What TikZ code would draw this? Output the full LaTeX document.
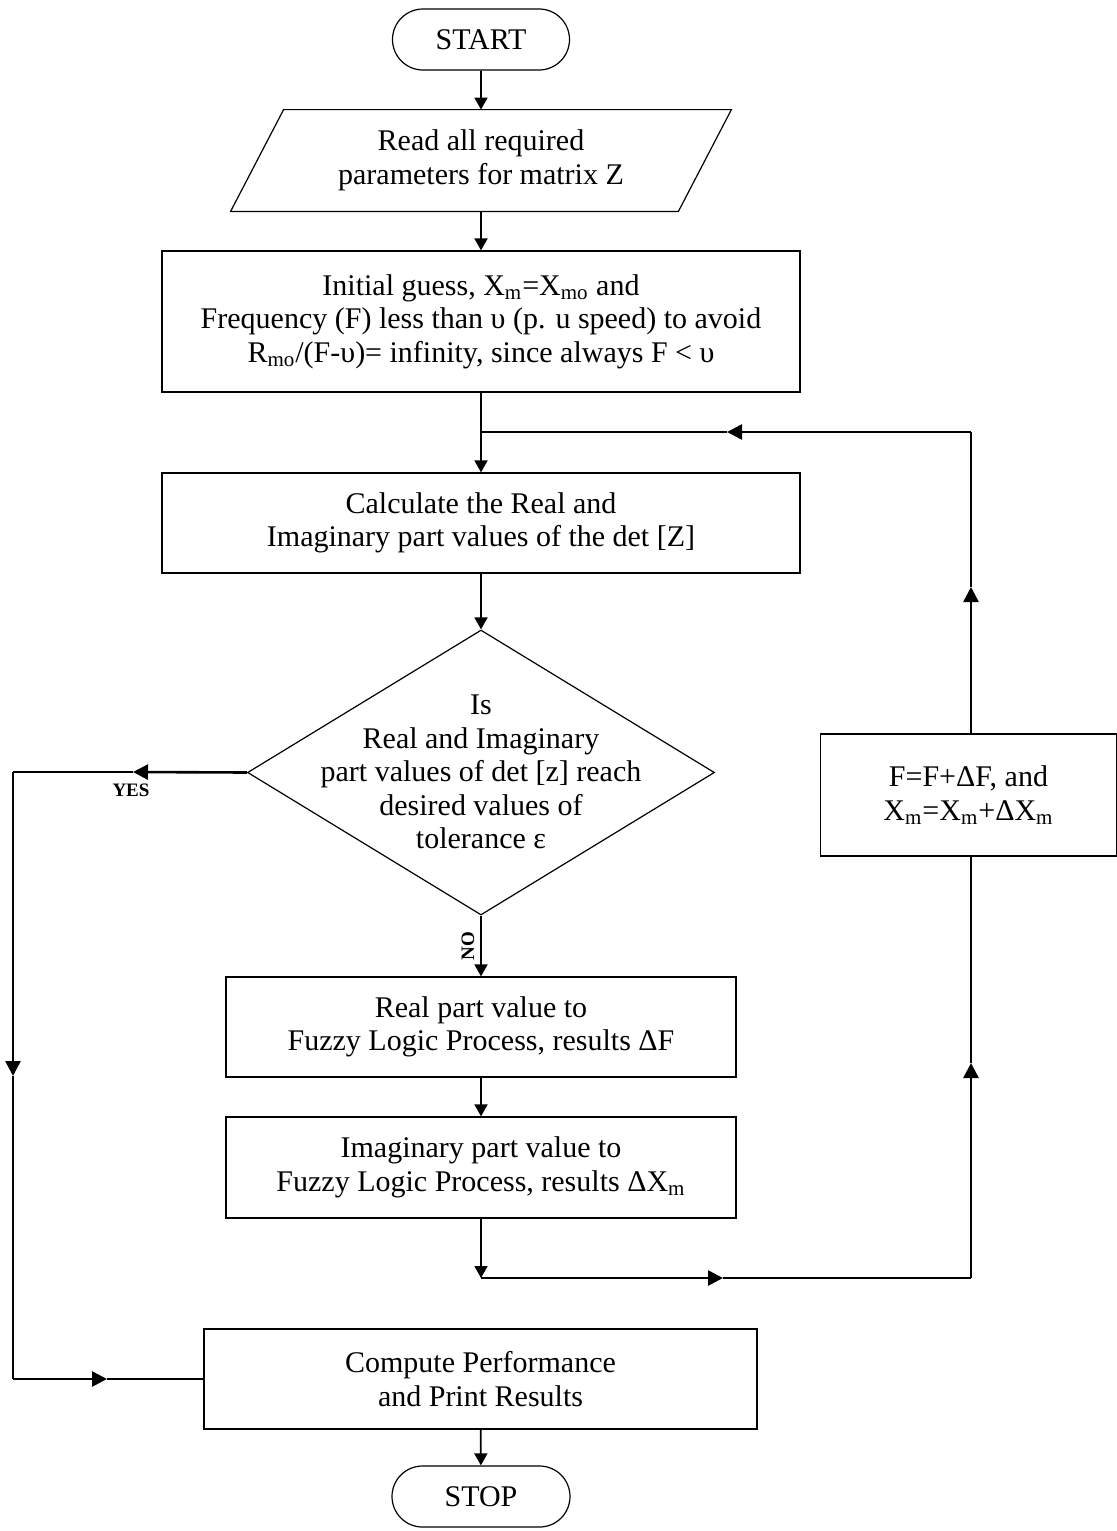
\documentclass[tikz,border=0pt]{standalone}
\usepackage{fontspec}
\setmainfont{Liberation Serif}
\usetikzlibrary{arrows.meta,shapes.geometric,shapes.misc}
\newcommand\sbs[1]{\textsubscript{#1}}
\begin{document}
\begin{tikzpicture}[x=0.5pt,y=-0.5pt,
  txt/.style={align=center, inner sep=0pt, font=\fontsize{15}{16.8}\selectfont},
  box/.style={txt, draw, line width=0.6pt, rectangle},
  term/.style={txt, draw, line width=0.6pt, rounded rectangle},
  lbl/.style={inner sep=0pt, font=\fontsize{9.5}{11}\selectfont\bfseries},
  conn/.style={line width=0.9pt},
  thk/.style={line width=1.3pt},
  arr/.style={conn, -{Triangle[length=6pt,width=6.5pt]}},
  tarr/.style={thk, -{Triangle[length=7.5pt,width=7.5pt]}}]
\useasboundingbox (0,0) rectangle (1117,1531);

% nodes
\node[term, minimum width=88.5pt, minimum height=30.5pt] (start) at (481,39.5) {START};
\node[txt, minimum width=250pt, minimum height=50.5pt] (read) at (481,160.5) {Read all required\\parameters for matrix Z};
\draw[line width=0.6pt] (read.south west) -- ([xshift=26.5pt]read.north west) -- (read.north east) -- ([xshift=-26.5pt]read.south east) -- cycle;
\node[box, minimum width=319pt, minimum height=70.5pt] (init) at (481,321.5)
  {Initial guess, X\sbs{m}=X\sbs{mo} and\\Frequency (F) less than υ (p. u speed) to avoid\\R\sbs{mo}/(F-υ)= infinity, since always F < υ};
\node[box, minimum width=319pt, minimum height=50pt] (calc) at (481,523)
  {Calculate the Real and\\Imaginary part values of the det [Z]};
\node[diamond, draw, line width=0.6pt, inner sep=0pt, minimum width=233.5pt, minimum height=142.5pt] (dec) at (481,772.5) {};
\node[txt] (dectxt) at (481,772) {Is\\Real and Imaginary\\part values of det [z] reach\\desired values of\\tolerance ε};
\node[box, minimum width=148pt, minimum height=61pt] (fbox) at (968.5,795)
  {F=F+ΔF, and\\X\sbs{m}=X\sbs{m}+ΔX\sbs{m}};
\node[box, minimum width=255pt, minimum height=50pt] (real) at (481,1027)
  {Real part value to\\Fuzzy Logic Process, results ΔF};
\node[box, minimum width=255pt, minimum height=50.5pt] (imag) at (481,1167.5)
  {Imaginary part value to\\Fuzzy Logic Process, results ΔX\sbs{m}};
\node[box, minimum width=276.5pt, minimum height=50pt] (comp) at (480.5,1379)
  {Compute Performance\\and Print Results};
\node[term, minimum width=89pt, minimum height=30.5pt] (stop) at (481,1496.5) {STOP};

% labels
\node[lbl, rotate=90] (no) at (468,946) {NO};
\node[lbl] (yes) at (131,790) {YES};

% helper coordinates
\coordinate (j1) at (481,432);
\coordinate (a1) at (727,432);
\coordinate (c1) at (971,432);
\coordinate (u1) at (971,587);
\coordinate (j2) at (481,1278);
\coordinate (a2) at (723,1278);
\coordinate (c2) at (971,1278);
\coordinate (u2) at (971,1063);
\coordinate (y1) at (133,772);
\coordinate (c3) at (13,772);
\coordinate (d3) at (13,1076);
\coordinate (c4) at (13,1379);
\coordinate (r4) at (107,1379);

% main flow
\draw[arr] (start) -- (read);
\draw[arr] (read) -- (init);
\draw[arr] (init) -- (calc);
\draw[arr] (calc) -- (dec.north);
\draw[arr] (dec.south) -- (real);
\draw[arr] (real) -- (imag);
\draw[arr] (imag) -- (j2);
\draw[arr] (comp) -- (stop);

% loop back
\draw[tarr] (j2) -- (a2);
\draw[conn] (a2) -- (c2);
\draw[tarr] (c2) -- (u2);
\draw[conn] (u2) -- (fbox.south -| u2);
\draw[tarr] (fbox.north -| u1) -- (u1);
\draw[conn] (u1) -- (c1);
\draw[tarr] (c1) -- (a1);
\draw[conn] (a1) -- (j1);

% yes branch
\draw[tarr] (dec.west) -- (y1);
\draw[conn] (y1) -- (c3);
\draw[tarr] (c3) -- (d3);
\draw[conn] (d3) -- (c4);
\draw[tarr] (c4) -- (r4);
\draw[conn] (r4) -- (comp.west);
\end{tikzpicture}
\end{document}
